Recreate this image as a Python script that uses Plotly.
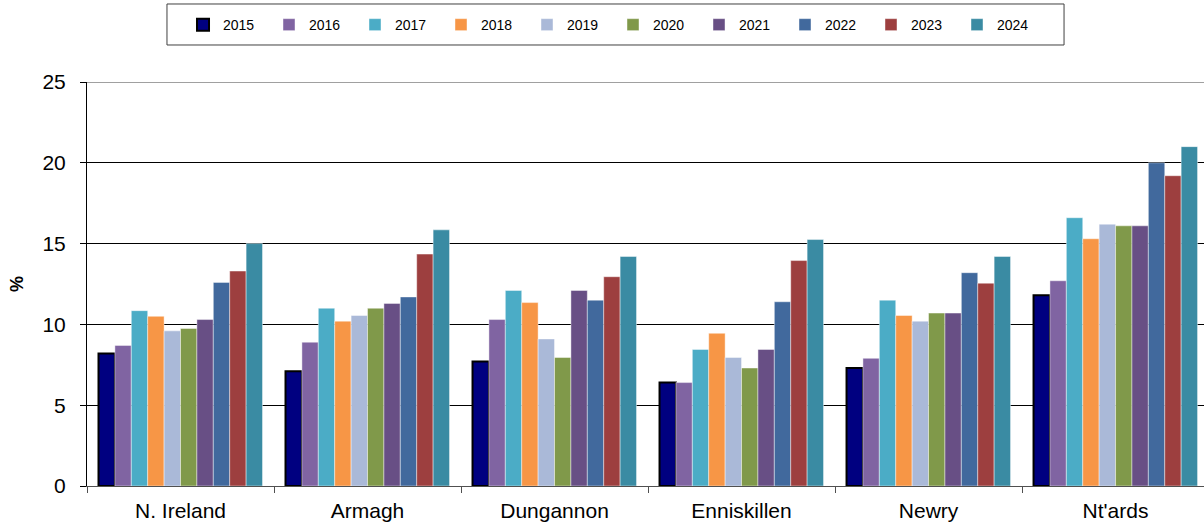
import plotly.graph_objects as go

categories = ["N. Ireland", "Armagh", "Dungannon", "Enniskillen", "Newry", "Nt'ards"]
years = ["2015", "2016", "2017", "2018", "2019", "2020", "2021", "2022", "2023", "2024"]

v2015 = [8.2, 7.1, 7.7, 6.4, 7.3, 11.8]
v2016 = [8.7, 8.9, 10.3, 6.4, 7.9, 12.7]
v2017 = [10.85, 11.0, 12.1, 8.45, 11.5, 16.6]
v2018 = [10.5, 10.2, 11.35, 9.45, 10.55, 15.3]
v2019 = [9.6, 10.55, 9.1, 7.95, 10.2, 16.2]
v2020 = [9.75, 11.0, 7.95, 7.3, 10.7, 16.1]
v2021 = [10.3, 11.3, 12.1, 8.45, 10.7, 16.1]
v2022 = [12.6, 11.7, 11.5, 11.4, 13.2, 20.0]
v2023 = [13.3, 14.35, 12.95, 13.95, 12.55, 19.2]
v2024 = [15.0, 15.85, 14.2, 15.25, 14.2, 21.0]

series = [v2015, v2016, v2017, v2018, v2019, v2020, v2021, v2022, v2023, v2024]
colors = ["#000080", "#8064A2", "#4BACC6", "#F79646", "#AAB9D8",
          "#80994A", "#684F85", "#41699D", "#9D3F3F", "#3A8BA3"]

fig = go.Figure()
for i, (yr, vals) in enumerate(zip(years, series)):
    if i == 0:
        line = dict(color="#000000", width=2)
    else:
        line = dict(color="rgba(255,255,255,0.55)", width=0.8)
    fig.add_trace(go.Bar(name=yr, x=categories, y=vals,
                         marker=dict(color=colors[i], line=line)))

fig.update_layout(
    width=1204, height=526,
    barmode="group", bargap=0.123, bargroupgap=0,
    plot_bgcolor="white", paper_bgcolor="white",
    margin=dict(l=87, r=0, t=82, b=40, autoexpand=False),
    font=dict(family="Liberation Sans, Arial, sans-serif", color="#000000"),
    legend=dict(orientation="h", xref="container", yref="container",
                x=0.152, y=0.9828, xanchor="left", yanchor="top",
                borderwidth=0, bgcolor="rgba(0,0,0,0)",
                font=dict(size=14), itemwidth=30,
                entrywidth=41, entrywidthmode="pixels",
                tracegroupgap=0),
    xaxis=dict(range=[-0.5, 5.473], tickson="boundaries", ticks="outside",
               ticklen=6, tickcolor="#505050", showline=True,
               linecolor="#505050", linewidth=1, showgrid=False,
               tickfont=dict(size=21), ticklabelstandoff=6),
    yaxis=dict(range=[0, 25], dtick=5, ticks="outside", ticklen=6,
               tickcolor="#000000", showline=True, linecolor="#000000",
               linewidth=1, gridcolor="#000000", gridwidth=1,
               zeroline=False, tickfont=dict(size=21), ticklabelstandoff=10,
               title=dict(text="<b>%</b>", font=dict(size=18), standoff=14)),
)
# gray top border of the plot area
fig.add_shape(type="line", xref="paper", yref="y", x0=0, x1=1, y0=25, y1=25,
              line=dict(color="#a0a0a0", width=2), layer="above")
# legend frame
fig.add_shape(type="rect", xref="paper", yref="paper",
              x0=0.0716, x1=0.8747, y0=1.0916, y1=1.1931,
              line=dict(color="#404040", width=1), fillcolor="rgba(0,0,0,0)")

fig.write_html("out.html", config={"displayModeBar": False},
               post_script="document.body.style.margin='0';")
